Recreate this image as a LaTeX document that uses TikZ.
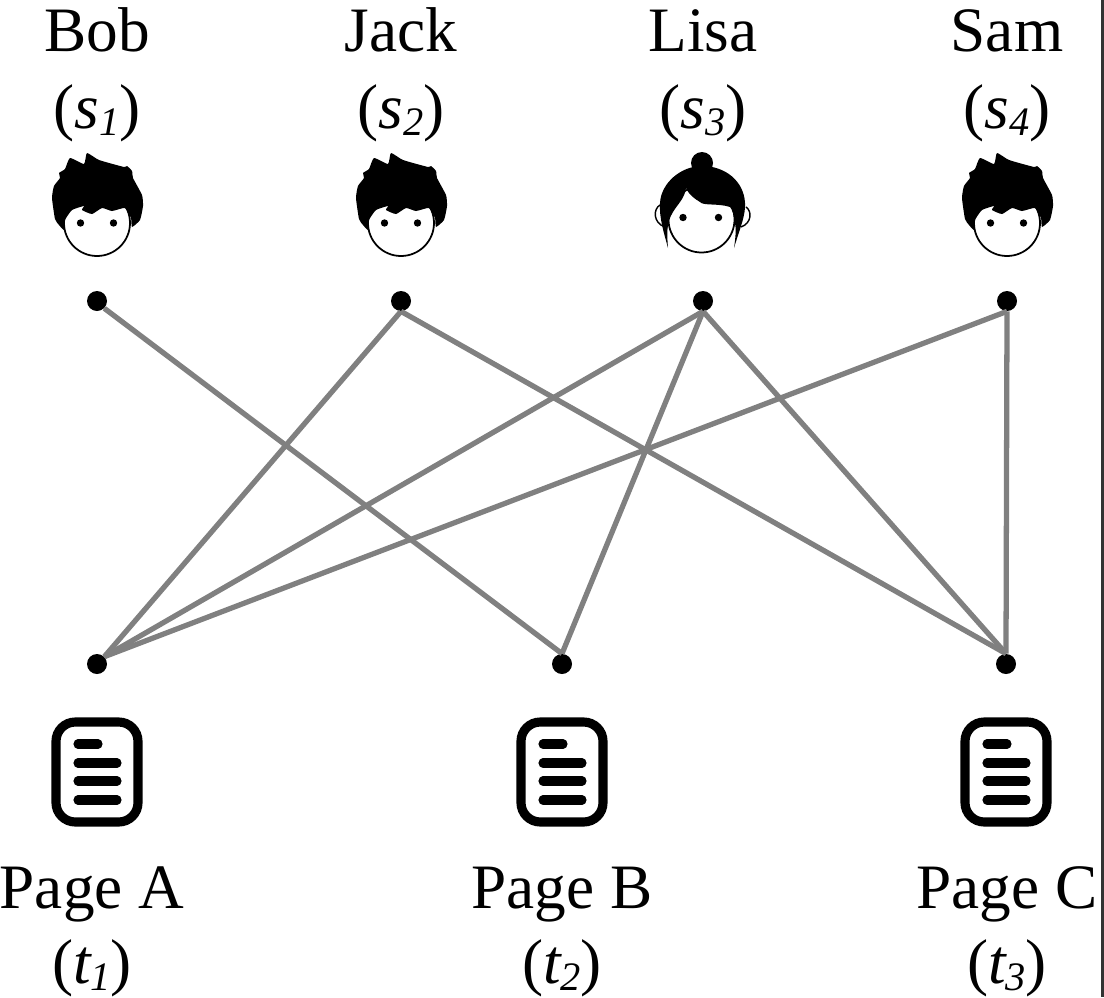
\documentclass[tikz,border=0pt]{standalone}
\usepackage{fontspec}
\usepackage{xcolor}
\setmainfont{Liberation Serif}
\newcommand{\lblsize}{\fontsize{36}{40}\selectfont}
\newcommand{\sublbl}[2]{({\itshape #1\raisebox{-4.5pt}{\fontsize{23}{28}\selectfont #2}})}
\tikzset{
  dotnode/.style={circle,fill=black,inner sep=0pt,minimum size=4mm},
  lblnode/.style={anchor=base,inner sep=0pt,font=\lblsize},
  link/.style={draw=black!50,line width=3pt},
  boyhead/.pic={
    \draw[line width=1pt] (0,0) circle (33);
    \fill plot[smooth cycle,tension=.3] coordinates {
      (-42,-4) (-45,-25) (-43,-37) (-37,-45) (-38,-50) (-32,-54) (-27,-65)
      (-13,-59) (-10,-70) (2,-63) (27,-56) (30,-57) (35,-52) (36,-45)
      (45,-28) (46,-17) (43,-3) (35,4) (34,-5) (28,-15) (15,-12) (5,-15)
      (-5,-9) (-15,-13) (-13,-17) (-25,-13) (-32,-3) (-33,7) (-38,2)};
    \fill (-16.5,0) circle (3.7);
    \fill (16.5,0) circle (3.7);
  },
  girlhead/.pic={
    \draw[line width=1pt] (-1.5,-3.5) circle (33);
    \draw[line width=.8pt] (-43,-18) .. controls (-50,-14) and (-50,0) .. (-38,4);
    \draw[line width=.8pt] (43,-16) .. controls (49,-12) and (49,0) .. (38,4);
    \fill (-1,-60) circle (11);
    \fill (-43,-20) .. controls (-42,-40) and (-22,-57) .. (-1,-57)
      .. controls (22,-57) and (41,-42) .. (42,-20)
      .. controls (43,-8) and (36,8) .. (31,25)
      .. controls (33,12) and (33,5) .. (32,0)
      .. controls (31,-8) and (29,-14) .. (27,-16)
      .. controls (15,-20) and (0,-17) .. (-3,-21)
      .. controls (-8,-24) and (-14,-28) .. (-17,-35)
      .. controls (-18,-25) and (-26,-18) .. (-30,-11)
      .. controls (-37,0) and (-36,12) .. (-35,25)
      .. controls (-39,10) and (-44,-5) .. (-43,-20) -- cycle;
    \fill (-20,-5.5) circle (3.7);
    \fill (15.5,-5.5) circle (3.7);
  },
  pagedoc/.pic={
    \draw[line width=5.2pt,rounded corners=11] (-41,-50) rectangle (41,50);
    \draw[line width=5.2pt,line cap=round] (-19,-28) -- (1,-28);
    \foreach \yy in {-9,9,28} {
      \draw[line width=5.2pt,line cap=round] (-19,\yy) -- (20,\yy);
    }
  }
}
\begin{document}
\begin{tikzpicture}[x=0.2mm,y=-0.2mm]
  \useasboundingbox (0,0) rectangle (1104,997);
  \draw[line width=1.7pt,draw=black!80] (1102.5,0) -- (1102.5,997);
  % people: name, x, label, index, icon
  \foreach \nm/\x/\lbl/\idx/\icon in {
    s1/97/Bob/1/boyhead,
    s2/401/Jack/2/boyhead,
    s3/703/Lisa/3/girlhead,
    s4/1007/Sam/4/boyhead} {
    \node[dotnode] (\nm) at (\x,301) {};
    \node[lblnode] (\nm name) at (\x,51) {\lbl};
    \node[lblnode] (\nm sub) at (\x,128) {\sublbl{s}{\idx}};
    \pic at (\x,223) {\icon};
  }
  % pages
  \foreach \nm/\x/\lx/\lbl/\idx in {
    t1/97/92/Page A/1,
    t2/562/562/Page B/2,
    t3/1006/1007/Page C/3} {
    \node[dotnode] (\nm) at (\x,664) {};
    \node[lblnode] (\nm name) at (\lx,908) {\lbl};
    \node[lblnode] (\nm sub) at (\lx,983) {\sublbl{t}{\idx}};
    \pic at (\x,772) {pagedoc};
  }
  % edges
  \foreach \a/\b in {s1.-45/t2.north,s2.south/t1.45,s2.south/t3.north,
    s3.south/t1.45,s3.south/t2.north,s3.south/t3.north,
    s4.south/t1.45,s4.south/t3.north} {
    \draw[link] (\a) -- (\b);
  }
\end{tikzpicture}
\end{document}
